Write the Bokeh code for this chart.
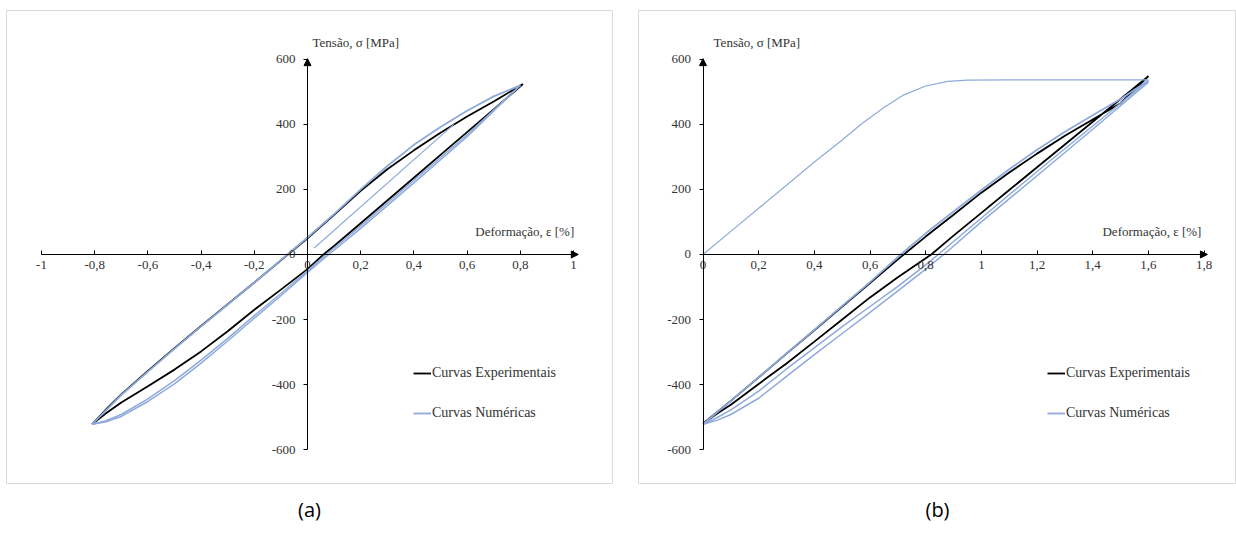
from bokeh.plotting import figure
from bokeh.models import (Range1d, LinearAxis, FixedTicker, CustomJSTickFormatter, Arrow,
                          NormalHead, Label, Legend, LegendItem, Title)
from bokeh.layouts import row
from bokeh.embed import file_html
from bokeh.resources import INLINE

# ---------------- data (a) ----------------
a_x_ticks = [-1, -0.8, -0.6, -0.4, -0.2, 0, 0.2, 0.4, 0.6, 0.8, 1]
y_ticks = [-600, -400, -200, 0, 200, 400, 600]

a_exp_x = [-0.81, -0.75, -0.7, -0.6, -0.5, -0.4, -0.3, -0.2, -0.1, 0.0, 0.1, 0.2, 0.3, 0.4, 0.5, 0.6, 0.7, 0.81,
           0.7, 0.6, 0.5, 0.4, 0.3, 0.2, 0.1, 0.06, 0.0, -0.1, -0.2, -0.3, -0.4, -0.5, -0.6, -0.7, -0.76, -0.81]
a_exp_y = [-522, -470, -430, -358, -288, -220, -153, -86, -18, 50, 122, 196, 262, 320, 374, 424, 470, 524,
           446, 376, 306, 236, 166, 96, 26, 0, -45, -108, -170, -236, -298, -354, -405, -455, -490, -522]

a_num_up_x = [-0.81, -0.7, -0.6, -0.5, -0.4, -0.3, -0.2, -0.1, 0.0, 0.1, 0.2, 0.3, 0.4, 0.5, 0.6, 0.7, 0.8]
a_num_up_y = [-522, -432, -360, -290, -221, -154, -86, -17, 52, 124, 200, 272, 337, 392, 442, 486, 520]

a_num_dn1_x = [0.8, 0.6, 0.4, 0.2, 0.07, 0.0, -0.1, -0.2, -0.3, -0.4, -0.5, -0.6, -0.7, -0.76, -0.81]
a_num_dn1_y = [520, 368, 228, 88, 0, -50, -120, -188, -258, -325, -388, -444, -492, -512, -522]
a_num_dn2_x = [0.8, 0.6, 0.4, 0.2, 0.08, 0.0, -0.1, -0.2, -0.3, -0.4, -0.5, -0.6, -0.7, -0.76, -0.81]
a_num_dn2_y = [520, 362, 220, 80, 0, -55, -127, -196, -266, -334, -398, -452, -498, -515, -522]

a_num_init_x = [0.025, 0.55]
a_num_init_y = [20, 400]

# ---------------- data (b) ----------------
b_x_ticks = [0, 0.2, 0.4, 0.6, 0.8, 1, 1.2, 1.4, 1.6, 1.8]

b_exp_x = [0.0, 0.1, 0.2, 0.3, 0.4, 0.5, 0.6, 0.7, 0.8, 0.9, 1.0, 1.1, 1.2, 1.3, 1.4, 1.5, 1.6,
           1.5, 1.4, 1.3, 1.2, 1.1, 1.0, 0.9, 0.82, 0.7, 0.6, 0.5, 0.4, 0.3, 0.2, 0.1, 0.05, 0.0]
b_exp_y = [-520, -450, -378, -305, -233, -160, -88, -15, 55, 122, 190, 252, 310, 365, 415, 465, 548,
           478, 408, 338, 268, 198, 128, 58, 0, -70, -132, -200, -268, -335, -398, -462, -490, -520]

b_num_init_x = [0.0, 0.1, 0.2, 0.3, 0.4, 0.5, 0.57, 0.65, 0.72, 0.8, 0.88, 0.95, 1.1, 1.3, 1.6]
b_num_init_y = [0, 71, 142, 213, 284, 352, 402, 452, 490, 518, 532, 536, 537, 537, 537]

b_num_up_x = [0.0, 0.1, 0.2, 0.3, 0.4, 0.5, 0.6, 0.71, 0.8, 0.9, 1.0, 1.1, 1.2, 1.3, 1.4, 1.5, 1.6]
b_num_up_y = [-522, -450, -378, -305, -232, -158, -85, 0, 65, 132, 198, 262, 322, 377, 428, 478, 535]

b_num_dn1_x = [1.6, 1.4, 1.2, 1.0, 0.845, 0.8, 0.7, 0.6, 0.5, 0.4, 0.3, 0.2, 0.1, 0.05, 0.0]
b_num_dn1_y = [535, 395, 255, 112, 0, -32, -98, -160, -222, -287, -352, -420, -478, -502, -522]
b_num_dn2_x = [1.6, 1.4, 1.2, 1.0, 0.865, 0.8, 0.7, 0.6, 0.5, 0.4, 0.3, 0.2, 0.1, 0.05, 0.0]
b_num_dn2_y = [530, 385, 242, 100, 0, -45, -112, -178, -243, -308, -375, -442, -492, -510, -522]

BLUE = "#8eaadb"
TXT = "#333333"
SERIF = "Liberation Serif"

FMT = CustomJSTickFormatter(code="""
const r = Math.round(tick);
let s = Math.abs(tick - r) < 1e-9 ? r.toString() : tick.toFixed(1);
return s.replace('.', ',');
""")


def base_fig(width, xr, mbl, mbr, xticks, xbounds, caption, cap_offset):
    p = figure(width=width, height=533, x_range=Range1d(*xr), y_range=Range1d(-704.1, 750),
               x_axis_type=None, y_axis_type=None, output_backend="svg", toolbar_location=None,
               min_border_left=mbl, min_border_right=mbr, min_border_top=10, min_border_bottom=48)
    p.outline_line_color = "#d9d9d9"
    p.outline_line_width = 1
    p.background_fill_color = "white"
    p.border_fill_color = "white"

    xa = LinearAxis(fixed_location=0, bounds=xbounds, ticker=FixedTicker(ticks=xticks),
                    formatter=FMT)
    xa.axis_line_color = "black"
    xa.major_tick_line_color = "black"
    xa.major_tick_in = 4
    xa.major_tick_out = 0
    xa.minor_tick_line_color = None
    xa.major_label_standoff = 7
    xa.major_label_text_font = SERIF
    xa.major_label_text_font_size = "13px"
    xa.major_label_text_color = TXT
    p.add_layout(xa, "below")

    ya = LinearAxis(fixed_location=0, bounds=(-600, 600), ticker=FixedTicker(ticks=y_ticks),
                    formatter=FMT)
    ya.axis_line_color = "black"
    ya.major_tick_line_color = "black"
    ya.major_tick_in = 0
    ya.major_tick_out = 4
    ya.minor_tick_line_color = None
    ya.major_label_standoff = 8
    ya.major_label_text_font = SERIF
    ya.major_label_text_font_size = "13px"
    ya.major_label_text_color = TXT
    p.add_layout(ya, "left")

    t = Title(text=caption, align="center", text_font="Open Sans", text_font_size="20px",
              text_font_style="normal", text_color="black", offset=cap_offset, standoff=21)
    p.add_layout(t, "below")
    return p


def decorate(p, xmax, xpad, tens_x, def_x):
    p.add_layout(Arrow(end=NormalHead(size=7, fill_color="black", line_color="black"),
                       x_start=xmax - 0.01, y_start=0, x_end=xmax + xpad, y_end=0,
                       line_color="black", line_width=1))
    p.add_layout(Arrow(end=NormalHead(size=7, fill_color="black", line_color="black"),
                       x_start=0, y_start=585, x_end=0, y_end=602,
                       line_color="black", line_width=1))
    p.add_layout(Label(x=tens_x, y=652, text="Tensão, σ [MPa]", text_font=SERIF,
                       text_font_size="13px", text_color=TXT, text_align="left",
                       text_baseline="middle"))
    p.add_layout(Label(x=def_x, y=70, text="Deformação,  ε [%]", text_font=SERIF,
                       text_font_size="13px", text_color=TXT, text_align="right",
                       text_baseline="middle"))


def legend(r_exp, r_num, x):
    return Legend(items=[LegendItem(label="Curvas Experimentais", renderers=[r_exp]),
                         LegendItem(label="Curvas Numéricas", renderers=[r_num])],
                  location=(x, 62), border_line_color=None, background_fill_alpha=0,
                  padding=0, margin=0, spacing=24, glyph_width=18, glyph_height=14,
                  label_height=14, label_standoff=1, label_text_font=SERIF,
                  label_text_font_size="14px", label_text_color=TXT)


# ---------------- panel (a) ----------------
pa = base_fig(638, (-1.1316, 1.1466), 6, 26, a_x_ticks, (-1, 1), "(a)", -2)
ra_exp = pa.line(a_exp_x, a_exp_y, line_color="black", line_width=1.8)
ra_num = pa.line(a_num_up_x, a_num_up_y, line_color=BLUE, line_width=1.8)
pa.line(a_num_dn1_x, a_num_dn1_y, line_color=BLUE, line_width=1.5)
pa.line(a_num_dn2_x, a_num_dn2_y, line_color=BLUE, line_width=1.5)
pa.line(a_num_init_x, a_num_init_y, line_color=BLUE, line_width=1.2)
decorate(pa, 1.0, 0.018, 0.019, 1.015)
pa.add_layout(legend(ra_exp, ra_num, 407))

# ---------------- panel (b) ----------------
pb = base_fig(598, (-0.2317, 1.9164), 0, 0, b_x_ticks, (0, 1.8), "(b)", 3)
rb_exp = pb.line(b_exp_x, b_exp_y, line_color="black", line_width=1.8)
rb_num = pb.line(b_num_up_x, b_num_up_y, line_color=BLUE, line_width=1.8)
pb.line(b_num_dn1_x, b_num_dn1_y, line_color=BLUE, line_width=1.5)
pb.line(b_num_dn2_x, b_num_dn2_y, line_color=BLUE, line_width=1.5)
pb.line(b_num_init_x, b_num_init_y, line_color=BLUE, line_width=1.2)
decorate(pb, 1.8, 0.012, 0.038, 1.802)
pb.add_layout(legend(rb_exp, rb_num, 409))

layout = row(pa, pb)
open("out.html", "w").write(file_html(layout, INLINE))
